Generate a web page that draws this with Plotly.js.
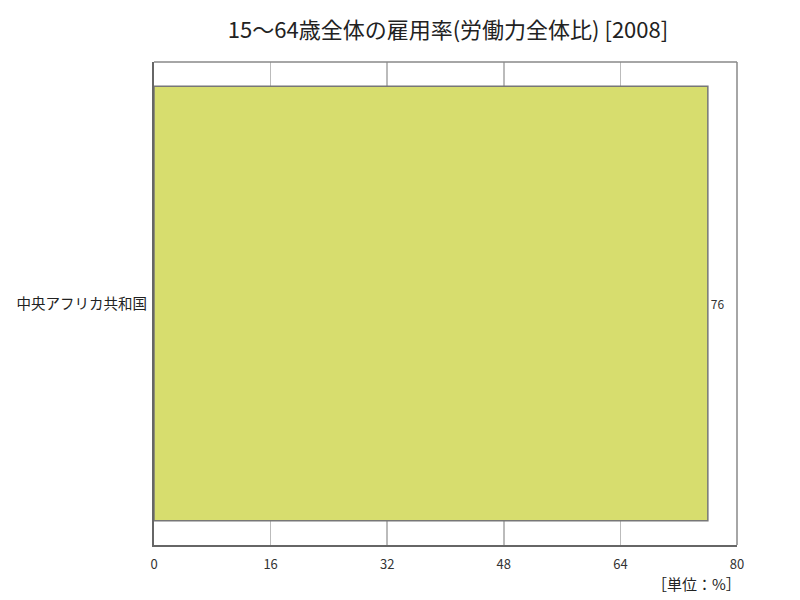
<!DOCTYPE html>
<html><head><meta charset="utf-8">
<script src="https://cdn.plot.ly/plotly-3.0.1.min.js"></script>
<style>body{margin:0;padding:0;background:#fff}#c{width:800px;height:600px}</style>
</head><body><div id="c"></div>
<script>
const categories = ["中央アフリカ共和国"];
const values = [76];
const tickVals = [0, 16, 32, 48, 64, 80];
const tickText = ["0", "16", "32", "48", "64", "80"];
const titleText = "15～64歳全体の雇用率(労働力全体比) [2008]";
const unitText = "［単位：%］";

const font = "Noto Sans CJK JP, sans-serif";
Plotly.newPlot("c", [{
  type: "bar",
  orientation: "h",
  y: categories,
  x: values,
  marker: {color: "#d7dd6e", line: {color: "#777777", width: 1.5}},
  text: values.map(String),
  textposition: "outside",
  textfont: {size: 12, color: "#333", family: font},
  cliponaxis: false,
  hoverinfo: "none"
}], {
  width: 800, height: 600,
  margin: {l: 154, r: 63, t: 62, b: 55},
  paper_bgcolor: "#fff", plot_bgcolor: "#fff",
  title: {text: titleText, x: 0.56, xanchor: "center", y: 0.95, yanchor: "middle",
          font: {size: 22, color: "#222", family: font}},
  bargap: 0.1,
  showlegend: false,
  xaxis: {range: [0, 80], tickvals: tickVals, ticktext: tickText, showgrid: true,
          gridcolor: "#bbbbbb", gridwidth: 1.5, zeroline: false, showline: true, linecolor: "#666", linewidth: 2,
          mirror: false, ticks: "", ticklabelstandoff: 6, tickfont: {size: 13, color: "#333", family: font}, fixedrange: true},
  yaxis: {showline: true, linecolor: "#666", linewidth: 2, ticks: "", automargin: false, ticklabelstandoff: 2,
          tickfont: {size: 14.5, color: "#222", family: font}, fixedrange: true},
  shapes: [
    {type: "line", xref: "paper", yref: "paper", x0: 0, x1: 1, y0: 1, y1: 1, line: {color: "#888", width: 1.5}},
    {type: "line", xref: "paper", yref: "paper", x0: 1, x1: 1, y0: 0, y1: 1, line: {color: "#888", width: 1.5}}
  ],
  annotations: [{text: unitText, xref: "paper", yref: "paper", x: 1, y: -0.079, xanchor: "right", yanchor: "middle",
                 xshift: 6, showarrow: false, font: {size: 15, color: "#222", family: font}}]
}, {displayModeBar: false, staticPlot: true});
</script></body></html>
